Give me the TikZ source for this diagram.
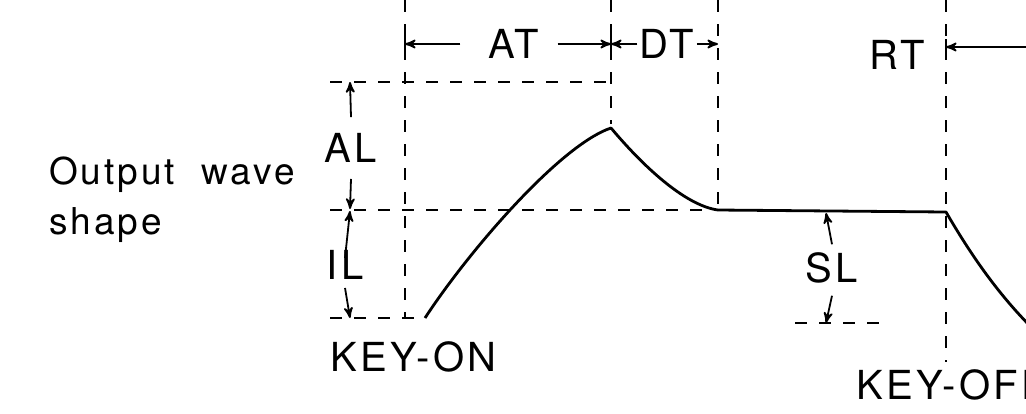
\documentclass[tikz,border=0pt]{standalone}
\usepackage{fontspec}
\setmainfont{TeX Gyre Heros}[LetterSpace=8]
\usepackage{tikz}
\usetikzlibrary{arrows,calc}

\begin{document}
\begin{tikzpicture}[x=0.5pt,y=-0.5pt,>=stealth',
      guide/.style={dashed,line width=0.9pt,dash pattern=on 6pt off 6pt},
      wave/.style={line width=1.4pt,line join=round},
      dim/.style={->,line width=0.9pt},
      lbl/.style={font=\fontsize{20}{23}\selectfont,inner sep=2pt}]
      \path[use as bounding box,clip] (0,0) rectangle (1026,413);

      % corners of the envelope
      \coordinate (st) at (425,318);   % key-on, start
      \coordinate (pk) at (611,128);   % peak
      \coordinate (dc) at (718,210);   % end of decay
      \coordinate (ko) at (946,212);   % key-off
      \coordinate (re) at (1034,330);  % release (runs off the edge)

      % guide lines
      \draw[guide] (405,0)  -- (405,318);
      \draw[guide] (611,0)  -- (611,124);
      \draw[guide] (718,0)  -- (dc);
      \draw[guide] (946,0)  -- (946,362);
      \draw[guide] (330,82)  -- (611,82);
      \draw[guide] (330,210) -- (dc);
      \draw[guide] (330,318) -- (st);
      \draw[guide] (795,323) -- (885,323);

      % the wave
      \draw[wave] (st) .. controls (468,252) and (560,145) .. (pk)
                       .. controls (648,172) and (688,206) .. (dc)
                       -- (ko)
                       .. controls (975,262) and (1002,298) .. (re);

      \node[align=left,anchor=west,font=\fontsize{18.5}{25}\selectfont]
            (out) at (42,200) {Output\ \ wave\\shape};

      % times
      \coordinate (atl) at (405,44);
      \coordinate (atr) at (611,44);
      \coordinate (dtr) at (718,44);
      \coordinate (rtl) at (946,47);
      \coordinate (rtr) at (1026,47);
      \node[lbl] (at) at (514,44) { AT };
      \node[lbl,inner sep=1pt] (dt) at (667,44) { DT };
      \node[lbl] (rt) at (897,55) { RT };
      \draw[dim] (at.west) ++(-24,0) -- (atl);
      \draw[dim] (at.east) ++(14,0) -- (atr);
      \draw[dim] (dt.west) -- (atr);
      \draw[dim] (dt.east) -- (dtr);
      \draw[dim] (rtr) -- (rtl);
      \draw[line width=0.9pt] (611,36) -- (611,52);   % tick
      \draw[line width=0.9pt] (946,39) -- (946,55);   % tick
      \draw[line width=0.9pt] (405,36) -- (405,52);   % tick

      % levels
      \coordinate (alt) at (350,82);
      \coordinate (alb) at (350,209);
      \coordinate (ilt) at (350,211);
      \coordinate (ilb) at (350,318);
      \coordinate (slt) at (826,213);
      \coordinate (slb) at (826,323);
      \node[lbl] (al) at (351,148) { AL };
      \node[lbl] (il) at (345,265) { IL };
      \node[lbl] (sl) at (832,268) { SL };
      \draw[dim] (al.north) ++(0,-12) -- (alt);
      \draw[dim] (al.south) ++(0,12) -- (alb);
      \draw[dim] (il.north) ++(0,12) -- (ilt);
      \draw[dim] (il.south) ++(0,4) -- (ilb);
      \draw[dim] (sl.north) ++(0,-4) -- (slt);
      \draw[dim] (sl.south) ++(0,8) -- (slb);

      \node[lbl,anchor=west] (kon)  at (326,357) { KEY-ON };
      \node[lbl,anchor=west] (koff) at (852,385) { KEY-OFF };
\end{tikzpicture}
\end{document}
